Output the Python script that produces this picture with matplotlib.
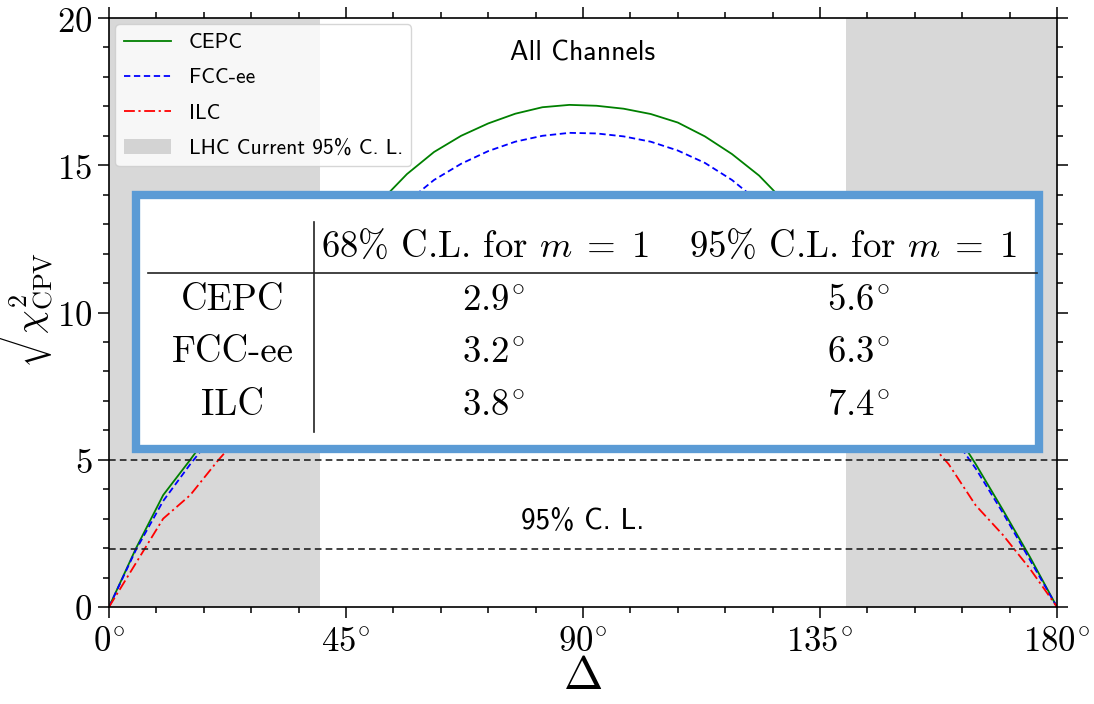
import numpy as np
import matplotlib
matplotlib.use("Agg")
import matplotlib.pyplot as plt
from matplotlib.ticker import MultipleLocator, FixedLocator
from matplotlib.patches import Rectangle
from matplotlib.lines import Line2D

plt.rcParams["mathtext.fontset"] = "cm"

# Phase grid (degrees) on which the significance was evaluated
delta = np.linspace(0, 180, 36)

# sqrt(chi^2_CPV) for each collider, all channels combined
cepc = [0.0, 2.0, 3.8, 5.0, 6.25, 7.5, 8.8, 10.05, 11.3, 12.5, 13.75, 14.7,
        15.45, 16.0, 16.42, 16.75, 16.97, 17.05, 17.02, 16.92, 16.74, 16.45,
        15.98, 15.38, 14.65, 13.7, 12.6, 11.4, 10.15, 8.9, 7.6, 6.3, 4.85,
        3.3, 1.7, 0.0]
fcc_ee = [0.0, 1.95, 3.6, 4.85, 6.0, 7.15, 8.3, 9.45, 10.55, 11.65, 12.75,
          13.75, 14.5, 15.05, 15.48, 15.8, 16.0, 16.1, 16.08, 15.98, 15.8,
          15.5, 15.08, 14.5, 13.75, 12.85, 11.85, 10.75, 9.6, 8.45, 7.25,
          6.0, 4.7, 3.2, 1.6, 0.0]
ilc = [0.0, 1.5, 3.0, 3.8, 4.95, 6.0, 7.0, 8.0, 8.9, 9.8, 10.6, 11.3,
       11.9, 12.45, 12.9, 13.2, 13.4, 13.5, 13.45, 13.35, 13.15, 12.85,
       12.4, 11.85, 11.2, 10.45, 9.6, 8.7, 7.8, 6.85, 5.9, 4.85, 3.45, 2.45,
       1.3, 0.0]

# Current LHC 95% C.L. excluded phase regions
lhc_regions = [(0, 40), (140, 180)]
# Reference significance levels
sig_levels = [5.0, 1.96]

x_ticks = [0, 45, 90, 135, 180]
x_ticklabels = [rf"${v}^{{\!\circ}}$" for v in x_ticks]
y_ticks = [0, 5, 10, 15, 20]

# Summary table of the phase precision
table_cols = [r"68% C.L. for $m\;=\;1$", r"95% C.L. for $m\;=\;1$"]
table_rows = ["CEPC", "FCC-ee", "ILC"]
table_68 = [r"$2.9^{\!\circ}$", r"$3.2^{\!\circ}$", r"$3.8^{\!\circ}$"]
table_95 = [r"$5.6^{\!\circ}$", r"$6.3^{\!\circ}$", r"$7.4^{\!\circ}$"]

W, H = 1094, 704
fig = plt.figure(figsize=(W / 100, H / 100), dpi=100)
ax = fig.add_axes([109 / W, 1 - 607 / H, 948 / W, 589 / H])

sans = "cmss10"
serif = "cmr10"

ax.plot(delta, cepc, color="green", lw=1.3, label="CEPC")
ax.plot(delta, fcc_ee, color="blue", lw=1.3, ls=(0, (3.5, 2.0)), label="FCC-ee")
ax.plot(delta, ilc, color="red", lw=1.3, ls=(0, (6, 2, 1.2, 2)), label="ILC")
for i, (a, b) in enumerate(lhc_regions):
    ax.axvspan(a, b, color="gray", alpha=0.3, lw=0,
               label="LHC Current 95% C. L." if i == 0 else None)
for lev in sig_levels:
    ax.axhline(lev, color="#222222", lw=1.2, ls=(0, (4, 2.5)))

ax.text(90, 18.8, "All Channels", ha="center", va="center",
        fontsize=20, family=sans)
ax.text(90, 2.9, "95% C. L.", ha="center", va="center",
        fontsize=21, family=sans)

ax.set_xlim(0, 180)
ax.set_ylim(0, 20)
ax.xaxis.set_major_locator(FixedLocator(x_ticks))
ax.set_xticklabels(x_ticklabels)
ax.xaxis.set_minor_locator(MultipleLocator(9))
ax.yaxis.set_major_locator(FixedLocator(y_ticks))
ax.set_yticklabels([rf"${v}$" for v in y_ticks])
ax.yaxis.set_minor_locator(MultipleLocator(1))
ax.tick_params(which="both", direction="out", top=True, right=True,
               width=1.1, labelsize=25)
ax.tick_params(which="major", length=8, pad=4)
ax.tick_params(which="minor", length=4.5)
for s in ax.spines.values():
    s.set_linewidth(1.2)

ax.set_xlabel(r"$\Delta$", fontsize=34)
ax.xaxis.set_label_coords(0.5, -0.08)
ax.set_ylabel(r"$\sqrt{\chi^2_{\rm CPV}}$", fontsize=27)
ax.yaxis.set_label_coords(-0.056, 0.51)

leg = ax.legend(loc="upper left", prop={"family": sans, "size": 15.5},
                framealpha=0.8, borderaxespad=0.3, handlelength=2.2,
                labelspacing=0.75)

# Table panel drawn on top of the curves
def px(x, y):
    return x / W, 1 - y / H

bx0, by0 = px(136, 449)
bx1, by1 = px(1039, 195)
fig.patches.append(Rectangle((bx0, by0), bx1 - bx0, by1 - by0,
                             transform=fig.transFigure, facecolor="white",
                             edgecolor="#5b9bd5", lw=6, zorder=10))
fig.lines.append(Line2D([314 / W, 314 / W], [1 - 222 / H, 1 - 432 / H],
                        transform=fig.transFigure, color="#222222", lw=1.2,
                        zorder=11))
fig.lines.append(Line2D([148 / W, 1037 / W], [1 - 273 / H, 1 - 273 / H],
                        transform=fig.transFigure, color="#222222", lw=1.2,
                        zorder=11))

tfs = 26.5
col_x = [485, 853]
row_y = [300, 352, 405]
for cx, lab in zip(col_x, table_cols):
    fig.text(*px(cx, 247), lab, ha="center", va="center", fontsize=tfs,
             family=serif, zorder=12)
for ry, name, v68, v95 in zip(row_y, table_rows, table_68, table_95):
    fig.text(*px(233, ry), name, ha="center", va="center", fontsize=tfs,
             family=serif, zorder=12)
    fig.text(*px(col_x[0] + 8, ry), v68, ha="center", va="center",
             fontsize=tfs, family=serif, zorder=12)
    fig.text(*px(col_x[1] + 5, ry), v95, ha="center", va="center",
             fontsize=tfs, family=serif, zorder=12)

fig.savefig("out.png", dpi=100)
